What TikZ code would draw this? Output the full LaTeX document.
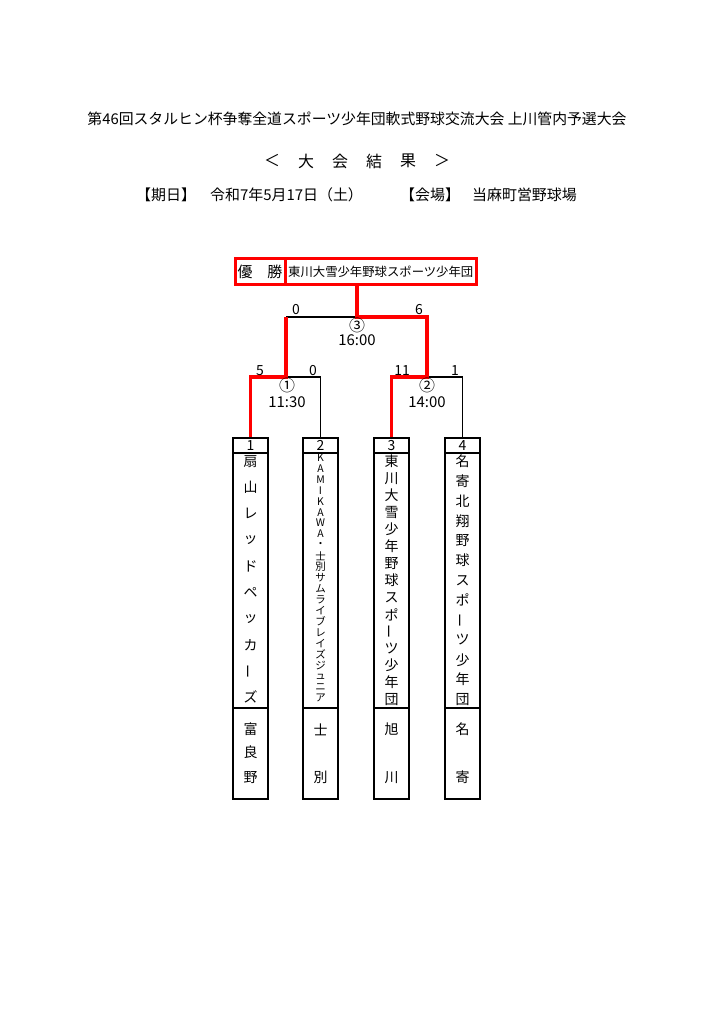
\documentclass[tikz,border=0pt]{standalone}
\usepackage{fontspec}
\setmainfont{Noto Sans CJK JP}
\usepackage{graphicx}
\definecolor{wincol}{rgb}{1.0,0.0,0.0}
\newcommand{\fsz}[1]{\fontsize{#1}{#1}\selectfont}
\newcommand{\vbar}{\rotatebox[origin=c]{90}{ー}}
\tikzset{
  cell/.style={draw=black, line width=1.1bp, minimum width=35bp, inner sep=0pt},
  winbox/.style={draw=wincol, line width=3bp, inner sep=0pt, minimum height=26bp},
  loss/.style={draw=black, line width=1.1bp},
  win/.style={draw=wincol, line width=3.2bp},
  score/.style={inner sep=0pt, font=\fsz{14}},
  chr/.style={inner sep=0pt},
}
\begin{document}
\begin{tikzpicture}
  \useasboundingbox (0bp,0bp) rectangle (724bp,1024bp);
%%
  % Node: title
  \node[chr, font=\fsz{14.9}] (title) at (357bp,905bp) {第46回スタルヒン杯争奪全道スポーツ少年団軟式野球交流大会 上川管内予選大会};
  % Node: heading
  \foreach \ch [count=\k] in {＜,大,会,結,果,＞}
    \node[chr, font=\fsz{16}] (head-\k) at ({238bp+34bp*\k},863bp) {\ch};
  % Node: date and place
  \node[chr, anchor=west, font=\fsz{15}] (dayl) at (136bp,829bp) {【期日】};
  \node[chr, anchor=west, font=\fsz{15}] (day) at (210bp,829bp) {令和7年5月17日（土）};
  \node[chr, anchor=west, font=\fsz{15}] (placel) at (400bp,829bp) {【会場】};
  \node[chr, anchor=west, font=\fsz{15}] (place) at (472bp,829bp) {当麻町営野球場};
  % Node: champion
  \node[winbox, minimum width=50bp, font=\fsz{15}] (yusho) at (260bp,752.5bp) {優\hspace{1em}勝};
  \node[winbox, minimum width=191.5bp, font=\fsz{12.4}] (champ) at (380.75bp,752.5bp) {東川大雪少年野球スポーツ少年団};
  % Node: teams
  \foreach \i/\x in {1/250.5, 2/320.5, 3/391.5, 4/462.5} {
    \node[cell, minimum height=15bp, font=\fsz{14}] (n\i) at (\x bp,578.5bp) {\i};
    \node[cell, minimum height=255bp] (m\i) at (\x bp,443.5bp) {};
    \node[cell, minimum height=91bp] (c\i) at (\x bp,270.5bp) {};
  }
  % Node: team names
  \foreach \ch [count=\k] in {扇,山,レ,ッ,ド,ペ,ッ,カ,\vbar,ズ}
    \node[chr, font=\fsz{14}] (m1-\k) at ([yshift={-9bp-26.2bp*(\k-1)}]m1.north) {\ch};
  \foreach \ch [count=\k] in {K,A,M,I,K,A,W,A,・,士,別,サ,ム,ラ,イ,ブ,レ,イ,ズ,ジ,ュ,ニ,ア}
    \node[chr, font=\fsz{10.5}] (m2-\k) at ([yshift={-5bp-10.95bp*(\k-1)}]m2.north) {\ch};
  \foreach \ch [count=\k] in {東,川,大,雪,少,年,野,球,ス,ポ,\vbar,ツ,少,年,団}
    \node[chr, font=\fsz{14}] (m3-\k) at ([yshift={-9bp-17bp*(\k-1)}]m3.north) {\ch};
  \foreach \ch [count=\k] in {名,寄,北,翔,野,球,ス,ポ,\vbar,ツ,少,年,団}
    \node[chr, font=\fsz{14}] (m4-\k) at ([yshift={-9bp-19.83bp*(\k-1)}]m4.north) {\ch};
  % Node: towns
  \foreach \ch/\dy [count=\k] in {富/22,良/45,野/70}
    \node[chr, font=\fsz{14}] (c1-\k) at ([yshift=-\dy bp]c1.north) {\ch};
  \foreach \t/\a/\b in {2/士/別, 3/旭/川, 4/名/寄} {
    \node[chr, font=\fsz{14}] (c\t-1) at ([yshift=-22bp]c\t.north) {\a};
    \node[chr, font=\fsz{14}] (c\t-2) at ([yshift=-70bp]c\t.north) {\b};
  }
  % Node: match points
  \coordinate (s1) at (286bp,647bp);
  \coordinate (s2) at (427bp,647bp);
  \coordinate (fin) at (357bp,707bp);
  % Edge: 2 -> match 1, 4 -> match 2, final left
  \draw[loss] (n2.north) |- (s1);
  \draw[loss] (n4.north) |- (s2);
  \draw[loss] (fin) -- (s1 |- fin);
  % Edge: 1 -> match 1 -> final
  \draw[win] (n1.north) |- (s1) -- (s1 |- fin);
  % Edge: 3 -> match 2 -> final -> champion
  \draw[win] (n3.north) |- (s2) -- (s2 |- fin) -- (fin) -- (fin |- champ.south);
  % Node: scores
  \node[score] (sc3l) at (296bp,714bp) {0};
  \node[score] (sc3r) at (419bp,714bp) {6};
  \node[score, font=\fsz{16}] (g3no) at (357bp,699bp) {③};
  \node[score, font=\fsz{15}] (g3time) at (357bp,684bp) {16:00};
  \node[score] (sc1l) at (260bp,653bp) {5};
  \node[score] (sc1r) at (313bp,653bp) {0};
  \node[score, font=\fsz{16}] (g1no) at (287bp,639bp) {①};
  \node[score, font=\fsz{15}] (g1time) at (287bp,622bp) {11:30};
  \node[score] (sc2l) at (402bp,653bp) {11};
  \node[score] (sc2r) at (455bp,653bp) {1};
  \node[score, font=\fsz{16}] (g2no) at (427bp,639bp) {②};
  \node[score, font=\fsz{15}] (g2time) at (427bp,622bp) {14:00};
%
\end{tikzpicture}
\end{document}
